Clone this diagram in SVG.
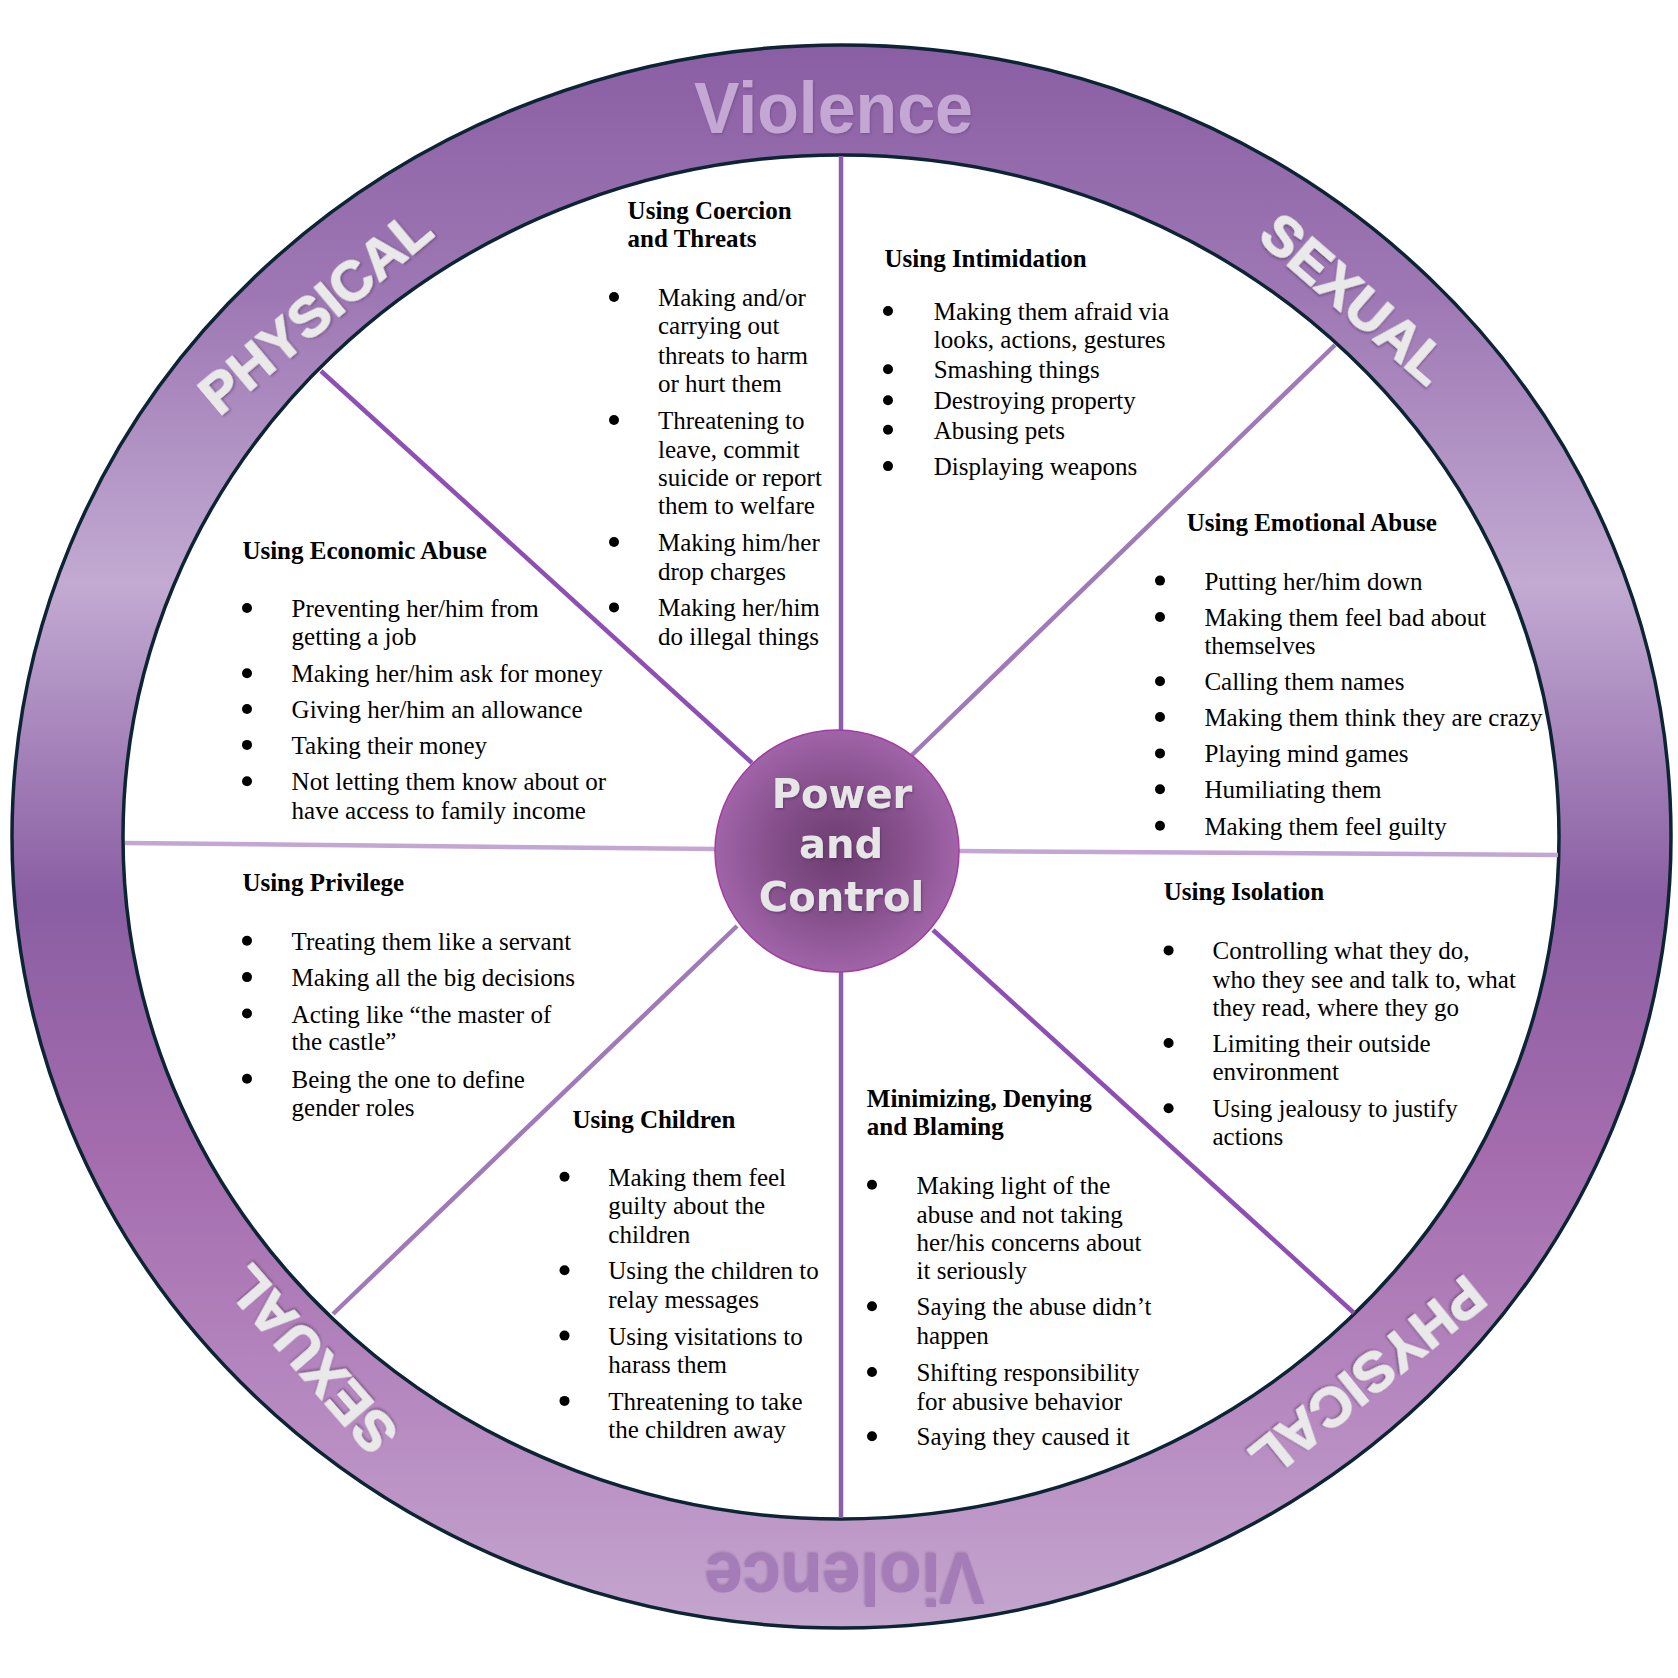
<svg xmlns="http://www.w3.org/2000/svg" width="1678" height="1678" viewBox="0 0 1678 1678">
<style>
.t{font-family:"Liberation Serif","Times New Roman",serif;font-size:25px;fill:#000}
.h{font-weight:bold}
.ring-lbl{font-family:"Liberation Sans",Arial,sans-serif;font-weight:bold;font-size:56px;fill:#e9e9e9;stroke:#e9e9e9;stroke-width:1.5;stroke-linejoin:round}
.viol{font-family:"Liberation Sans",Arial,sans-serif;font-weight:bold;font-size:72px;stroke-linejoin:round}
.pc{font-family:"DejaVu Sans",Verdana,sans-serif;font-weight:bold;font-size:40px;fill:#e6e6e6;text-anchor:middle}
.spoke{fill:none;stroke-width:4.5;stroke-linecap:butt}
.edge{fill:none;stroke:#0c2433;stroke-width:3.5}
.bul circle{fill:#000}
</style>
<defs>
<linearGradient id="ringGrad" gradientUnits="userSpaceOnUse" x1="0" y1="45" x2="0" y2="1628">
<stop offset="0" stop-color="#8a5ea3"/>
<stop offset="0.16" stop-color="#9e78b4"/>
<stop offset="0.34" stop-color="#c2aad2"/>
<stop offset="0.54" stop-color="#8a5ea3"/>
<stop offset="0.7" stop-color="#a46cad"/>
<stop offset="0.85" stop-color="#b587bf"/>
<stop offset="1" stop-color="#c4a6ce"/>
</linearGradient>
<radialGradient id="hubGrad" cx="0.5" cy="0.5" r="0.5">
<stop offset="0" stop-color="#6c3d70"/>
<stop offset="0.55" stop-color="#86508c"/>
<stop offset="1" stop-color="#a064a8"/>
</radialGradient>
<filter id="emboss" x="-10%" y="-10%" width="120%" height="130%">
<feDropShadow dx="1" dy="1.5" stdDeviation="1" flood-color="#4a2a55" flood-opacity="0.55"/>
</filter>
<filter id="soft" x="-10%" y="-10%" width="120%" height="130%">
<feDropShadow dx="1" dy="1.5" stdDeviation="1.2" flood-color="#5a3a6a" flood-opacity="0.4"/>
</filter>
</defs>
<rect width="1678" height="1678" fill="#fff"/>

<g id="ring">
<path fill="url(#ringGrad)" fill-rule="evenodd" d="M12,836.5 a829.5,791.5 0 1,0 1659,0 a829.5,791.5 0 1,0 -1659,0 Z M123,837 a718,682 0 1,0 1436,0 a718,682 0 1,0 -1436,0 Z"/>
<ellipse class="edge" cx="841.5" cy="836.5" rx="829.5" ry="791.5"/>
<ellipse class="edge" cx="841" cy="837" rx="718" ry="682"/>
<text class="viol" x="833.5" y="133" text-anchor="middle" textLength="279" lengthAdjust="spacingAndGlyphs" fill="#c4a7d3" filter="url(#soft)">Violence</text>
<text class="viol" x="845" y="1606" text-anchor="middle" textLength="280" lengthAdjust="spacingAndGlyphs" fill="#a47cb8" transform="rotate(180 845 1580)" filter="url(#soft)">Violence</text>
<text class="ring-lbl" x="327.5" y="326" text-anchor="middle" transform="rotate(-40 327.5 326)" filter="url(#emboss)">PHYSICAL</text>
<text class="ring-lbl" x="1342" y="313" text-anchor="middle" transform="rotate(41 1342 313)" filter="url(#emboss)">SEXUAL</text>
<text class="ring-lbl" x="326" y="1347" text-anchor="middle" transform="rotate(-131 326 1347)" filter="url(#emboss)">SEXUAL</text>
<text class="ring-lbl" x="1356" y="1362" text-anchor="middle" transform="rotate(141 1356 1362)" filter="url(#emboss)">PHYSICAL</text>
</g>

<g id="connectors">
<line class="spoke" x1="841" y1="156" x2="841" y2="731" stroke="#8b5ea8"/>
<line class="spoke" x1="841" y1="972" x2="841" y2="1518" stroke="#8b5ea8"/>
<line class="spoke" x1="321" y1="371" x2="752" y2="763" stroke="#8e4fb5"/>
<line class="spoke" x1="933" y1="930" x2="1354" y2="1313" stroke="#8e4fb5"/>
<line class="spoke" x1="1335" y1="345" x2="912" y2="755" stroke="#a07ab8"/>
<line class="spoke" x1="737" y1="926" x2="333" y2="1314" stroke="#a07ab8"/>
<line class="spoke" x1="125" y1="843" x2="715" y2="849" stroke="#c3a6d3"/>
<line class="spoke" x1="959" y1="851" x2="1558" y2="855" stroke="#c3a6d3"/>
</g>

<g id="hub">
<ellipse cx="837" cy="851" rx="122" ry="121" fill="url(#hubGrad)" stroke="#a43ba0" stroke-width="1.5"/>
<text class="pc" filter="url(#emboss)"><tspan x="842" y="808">Power</tspan><tspan x="841" y="858">and</tspan><tspan x="841.5" y="911">Control</tspan></text>
</g>

<g id="coercion">
<text class="t h"><tspan x="627.6" y="219.4">Using Coercion</tspan><tspan x="627.6" y="247.2">and Threats</tspan></text>
<g class="bul"><circle cx="614" cy="297" r="5"/><circle cx="614" cy="420" r="5"/><circle cx="614" cy="542" r="5"/><circle cx="614" cy="607.4" r="5"/></g>
<text class="t"><tspan x="658" y="306">Making and/or</tspan><tspan x="658" y="334.4">carrying out</tspan><tspan x="658" y="363.8">threats to harm</tspan><tspan x="658" y="392.2">or hurt them</tspan><tspan x="658" y="429.1">Threatening to</tspan><tspan x="658" y="457.5">leave, commit</tspan><tspan x="658" y="485.8">suicide or report</tspan><tspan x="658" y="514.2">them to welfare</tspan><tspan x="658" y="551">Making him/her</tspan><tspan x="658" y="579.5">drop charges</tspan><tspan x="658" y="616.4">Making her/him</tspan><tspan x="658" y="644.7">do illegal things</tspan></text>
</g>

<g id="intimidation">
<text class="t h" x="884.5" y="266.5">Using Intimidation</text>
<g class="bul"><circle cx="888" cy="311" r="5"/><circle cx="888" cy="369.3" r="5"/><circle cx="888" cy="400.3" r="5"/><circle cx="888" cy="429.7" r="5"/><circle cx="888" cy="466.1" r="5"/></g>
<text class="t"><tspan x="933.7" y="320">Making them afraid via</tspan><tspan x="933.7" y="347.8">looks, actions, gestures</tspan><tspan x="933.7" y="378.3">Smashing things</tspan><tspan x="933.7" y="409.3">Destroying property</tspan><tspan x="933.7" y="438.7">Abusing pets</tspan><tspan x="933.7" y="475.1">Displaying weapons</tspan></text>
</g>

<g id="emotional">
<text class="t h" x="1186.8" y="531.3">Using Emotional Abuse</text>
<g class="bul"><circle cx="1160" cy="580.6" r="5"/><circle cx="1160" cy="617" r="5"/><circle cx="1160" cy="681.2" r="5"/><circle cx="1160" cy="717" r="5"/><circle cx="1160" cy="753.4" r="5"/><circle cx="1160" cy="789.3" r="5"/><circle cx="1160" cy="825.7" r="5"/></g>
<text class="t"><tspan x="1204.4" y="589.6">Putting her/him down</tspan><tspan x="1204.4" y="626">Making them feel bad about</tspan><tspan x="1204.4" y="653.8">themselves</tspan><tspan x="1204.4" y="690.2">Calling them names</tspan><tspan x="1204.4" y="726">Making them think they are crazy</tspan><tspan x="1204.4" y="762.4">Playing mind games</tspan><tspan x="1204.4" y="798.3">Humiliating them</tspan><tspan x="1204.4" y="834.7">Making them feel guilty</tspan></text>
</g>

<g id="economic">
<text class="t h" x="242.4" y="559.1">Using Economic Abuse</text>
<g class="bul"><circle cx="247" cy="608" r="5"/><circle cx="247" cy="673.2" r="5"/><circle cx="247" cy="709" r="5"/><circle cx="247" cy="744.9" r="5"/><circle cx="247" cy="781.3" r="5"/></g>
<text class="t"><tspan x="291.6" y="617">Preventing her/him from</tspan><tspan x="291.6" y="644.7">getting a job</tspan><tspan x="291.6" y="682.2">Making her/him ask for money</tspan><tspan x="291.6" y="718">Giving her/him an allowance</tspan><tspan x="291.6" y="753.9">Taking their money</tspan><tspan x="291.6" y="790.3">Not letting them know about or</tspan><tspan x="291.6" y="818.6">have access to family income</tspan></text>
</g>

<g id="privilege">
<text class="t h" x="242.4" y="891.4">Using Privilege</text>
<g class="bul"><circle cx="247" cy="940.8" r="5"/><circle cx="247" cy="977.1" r="5"/><circle cx="247" cy="1013.5" r="5"/><circle cx="247" cy="1078.8" r="5"/></g>
<text class="t"><tspan x="291.6" y="949.8">Treating them like a servant</tspan><tspan x="291.6" y="986.1">Making all the big decisions</tspan><tspan x="291.6" y="1022.5">Acting like “the master of</tspan><tspan x="291.6" y="1050.3">the castle”</tspan><tspan x="291.6" y="1087.8">Being the one to define</tspan><tspan x="291.6" y="1115.6">gender roles</tspan></text>
</g>

<g id="isolation">
<text class="t h" x="1163.8" y="899.5">Using Isolation</text>
<g class="bul"><circle cx="1168.6" cy="950.4" r="5"/><circle cx="1168.6" cy="1043" r="5"/><circle cx="1168.6" cy="1108.2" r="5"/></g>
<text class="t"><tspan x="1212.5" y="959.4">Controlling what they do,</tspan><tspan x="1212.5" y="987.7">who they see and talk to, what</tspan><tspan x="1212.5" y="1015.6">they read, where they go</tspan><tspan x="1212.5" y="1052">Limiting their outside</tspan><tspan x="1212.5" y="1080.3">environment</tspan><tspan x="1212.5" y="1117.2">Using jealousy to justify</tspan><tspan x="1212.5" y="1145">actions</tspan></text>
</g>

<g id="children">
<text class="t h" x="572.5" y="1127.9">Using Children</text>
<g class="bul"><circle cx="564.5" cy="1176.7" r="5"/><circle cx="564.5" cy="1270.3" r="5"/><circle cx="564.5" cy="1335.6" r="5"/><circle cx="564.5" cy="1400.9" r="5"/></g>
<text class="t"><tspan x="608.3" y="1185.7">Making them feel</tspan><tspan x="608.3" y="1213.5">guilty about the</tspan><tspan x="608.3" y="1243">children</tspan><tspan x="608.3" y="1279.3">Using the children to</tspan><tspan x="608.3" y="1308.2">relay messages</tspan><tspan x="608.3" y="1344.6">Using visitations to</tspan><tspan x="608.3" y="1373">harass them</tspan><tspan x="608.3" y="1409.9">Threatening to take</tspan><tspan x="608.3" y="1438.2">the children away</tspan></text>
</g>

<g id="minimizing">
<text class="t h"><tspan x="866.8" y="1106.5">Minimizing, Denying</tspan><tspan x="866.8" y="1134.9">and Blaming</tspan></text>
<g class="bul"><circle cx="872" cy="1184.7" r="5"/><circle cx="872" cy="1306.2" r="5"/><circle cx="872" cy="1372" r="5"/><circle cx="872" cy="1436.2" r="5"/></g>
<text class="t"><tspan x="916.6" y="1193.7">Making light of the</tspan><tspan x="916.6" y="1222.6">abuse and not taking</tspan><tspan x="916.6" y="1251">her/his concerns about</tspan><tspan x="916.6" y="1279.3">it seriously</tspan><tspan x="916.6" y="1315.2">Saying the abuse didn’t</tspan><tspan x="916.6" y="1343.5">happen</tspan><tspan x="916.6" y="1381">Shifting responsibility</tspan><tspan x="916.6" y="1409.9">for abusive behavior</tspan><tspan x="916.6" y="1445.2">Saying they caused it</tspan></text>
</g>
</svg>
